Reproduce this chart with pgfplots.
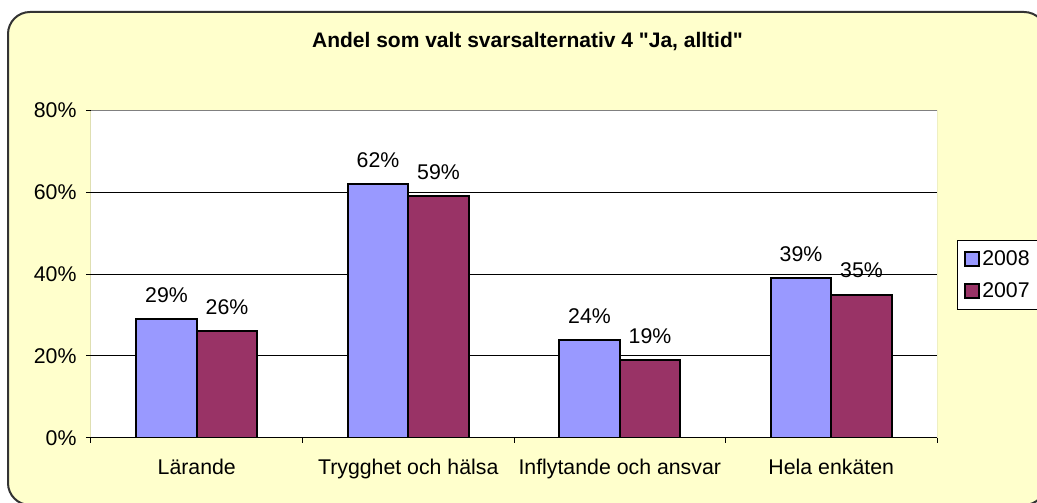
\documentclass[border=0pt]{standalone}
\usepackage{pgfplots}
\pgfplotsset{compat=1.18}
\usepackage{fontspec}
\setmainfont{Liberation Sans}[Ligatures=TeXOff]
\definecolor{bgyellow}{HTML}{FFFFCC}
\definecolor{cA}{HTML}{9999FF}
\definecolor{cB}{HTML}{993366}
\newcommand{\bigf}{\fontsize{21.3}{25}\selectfont}
\begin{document}
\begin{tikzpicture}[x=1pt,y=1pt]
\useasboundingbox (0pt,0pt) rectangle (1037pt,503pt);
\begin{scope}
\clip (0pt,0pt) rectangle (1037pt,503pt);
\draw[fill=bgyellow, draw=black!80, line width=2pt, rounded corners=22pt] (8pt,-2pt) rectangle (1046pt,491pt);
\end{scope}
\begin{axis}[
  at={(91pt,65pt)}, anchor=south west,
  width=846pt, height=328pt, scale only axis,
  xmin=-0.5, xmax=3.5, ymin=0, ymax=80,
  enlargelimits=false,
  ybar=0pt, bar width=60.5pt,
  axis background/.style={fill=white},
  axis line style={draw=none},
  /pgf/number format/assume math mode=true,
  ticklabel style={font=\bigf},
  yticklabel style={xshift=-6pt},
  xticklabel style={yshift=-18pt},
  ytick={0,20,40,60,80},
  yticklabel={\pgfmathprintnumber{\tick}\%},
  ymajorgrids, grid style={black, line width=1pt},
  tick align=outside, major tick length=5pt,
  tick style={black, line width=1pt},
  tick pos=left,
  xtick={-0.5,0.5,1.5,2.5,3.5}, xticklabels={},
  extra x ticks={0,1,2,3},
  extra x tick labels={Lärande, Trygghet och hälsa, Inflytande och ansvar, Hela enkäten},
  extra x tick style={major tick length=0pt, grid=none},
  nodes near coords={\pgfmathprintnumber{\pgfplotspointmeta}\%},
  nodes near coords style={font=\bigf, anchor=south, yshift=12pt},
  legend style={at={(1.0236,0.6037)}, anchor=north west, draw=black, line width=1pt,
    fill=white, font=\bigf, inner xsep=7pt, inner ysep=8pt, row sep=12pt},
  legend cell align=left,
]
\addplot[fill=cA, draw=black, line width=2pt,
  legend image code/.code={\draw[fill=cA, draw=black, line width=1.8pt] (0pt,-7pt) rectangle (14pt,7pt);}]
  coordinates {(0,29) (1,62) (2,24) (3,39)};
\addplot[fill=cB, draw=black, line width=2pt,
  legend image code/.code={\draw[fill=cB, draw=black, line width=1.8pt] (0pt,-7pt) rectangle (14pt,7pt);}]
  coordinates {(0,26) (1,59) (2,19) (3,35)};
\legend{2008,2007}
\draw[gray, line width=1pt] (rel axis cs:0,1) -- (rel axis cs:1,1) -- (rel axis cs:1,0);
\draw[black, line width=1pt] (rel axis cs:0,1) -- (rel axis cs:0,0) -- (rel axis cs:1,0);
\end{axis}
\node[font=\bfseries\fontsize{21}{25}\selectfont, anchor=base] at (527.5pt,455pt) {Andel som valt svarsalternativ 4 "Ja, alltid"};
\end{tikzpicture}
\end{document}
